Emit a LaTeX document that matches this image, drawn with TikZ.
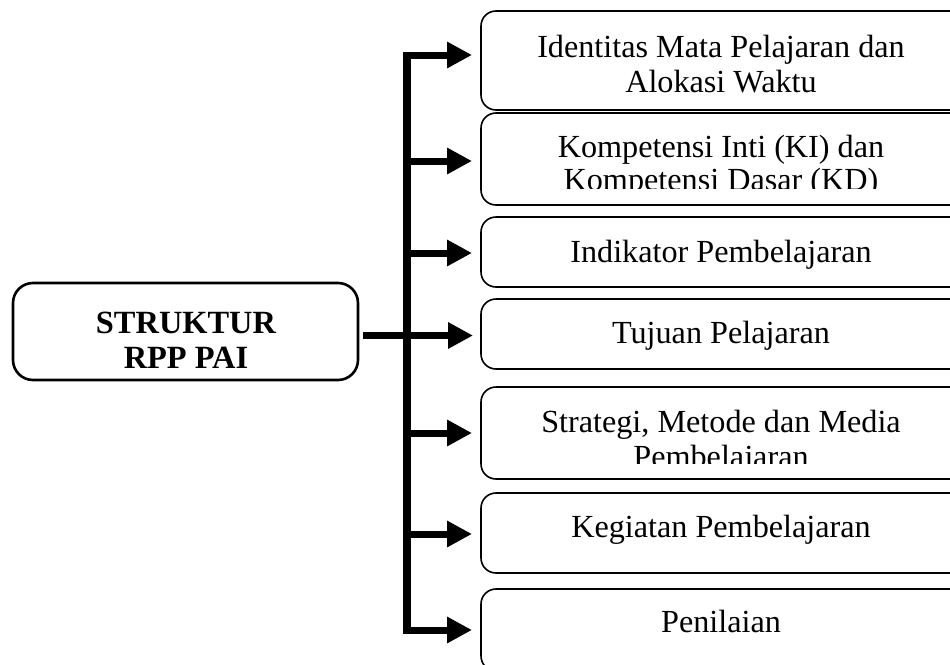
\documentclass[tikz,border=0pt]{standalone}
\usepackage{fontspec}
\setmainfont{Liberation Serif}
\usetikzlibrary{arrows.meta}
\begin{document}
\begin{tikzpicture}[x=1pt,y=-1pt,
  rbox/.style={anchor=north west,inner sep=0pt,outer sep=0pt,minimum width=482pt},
  outline/.style={draw,line width=1.6pt,rounded corners=15pt},
  mainbox/.style={draw,line width=2.6pt,rounded corners=20pt,anchor=north west,inner sep=0pt,outer sep=0pt,minimum width=345pt,minimum height=97pt},
  txt/.style={anchor=base,inner sep=0pt,font=\fontsize{32.2}{34}\selectfont},
  btxt/.style={anchor=base,inner sep=0pt,font=\fontsize{32.4}{35}\selectfont\bfseries},
  arr/.style={line width=7pt,-{Triangle[length=25pt,width=25pt]}},
  spine/.style={line width=8pt}
]
\useasboundingbox (0,0) rectangle (950,664);
\fill[white] (0,0) rectangle (950,664);
\clip (0,0) rectangle (950,664);

% boxes
\node[mainbox] (b0) at (13,283) {};
\node[rbox,minimum height=99pt] (b1) at (481,11) {};
\node[rbox,minimum height=92pt] (b2) at (481,113) {};
\node[rbox,minimum height=70pt] (b3) at (481,217) {};
\node[rbox,minimum height=70pt] (b4) at (481,299) {};
\node[rbox,minimum height=92pt] (b5) at (481,387) {};
\node[rbox,minimum height=80pt] (b6) at (481,493) {};
\node[rbox,minimum height=82pt] (b7) at (481,589) {};
\foreach \b in {b1,b2,b3,b4,b5,b6,b7}{
  \draw[outline] ([xshift=40pt]\b.north east) -- (\b.north west) -- (\b.south west) -- ([xshift=40pt]\b.south east);
}

% texts
\node[btxt] (m1) at (186,333) {STRUKTUR};
\node[btxt] (m2) at (186,368) {RPP PAI};

\node[txt] (t11) at (721,57) {Identitas Mata Pelajaran dan};
\node[txt] (t12) at (721,92) {Alokasi Waktu};
\begin{scope}
\clip (482,114) rectangle (962,188);
\node[txt] (t21) at (721,157) {Kompetensi Inti (KI) dan};
\node[txt] (t22) at (721,190) {Kompetensi Dasar (KD)};
\end{scope}
\node[txt] (t3) at (721,262) {Indikator Pembelajaran};
\node[txt] (t4) at (721,343) {Tujuan Pelajaran};
\begin{scope}
\clip (482,388) rectangle (962,463);
\node[txt] (t51) at (721,432) {Strategi, Metode dan Media};
\node[txt] (t52) at (721,467) {Pembelajaran};
\end{scope}
\node[txt] (t6) at (721,537) {Kegiatan Pembelajaran};
\node[txt] (t7) at (721,632) {Penilaian};

% spine
\coordinate (stop) at (407,51.5);
\coordinate (sbot) at (407,633.5);
\draw[spine] (stop) -- (sbot);

% arrow targets
\coordinate (a1) at ([xshift=-9pt,yshift=5.5pt]b1.west);
\coordinate (a2) at ([xshift=-9pt,yshift=-2pt]b2.west);
\coordinate (a3) at ([xshift=-9pt,yshift=-1pt]b3.west);
\coordinate (a4) at ([xshift=-8pt,yshift=-1.5pt]b4.west);
\coordinate (a5) at ([xshift=-9pt]b5.west);
\coordinate (a6) at ([xshift=-9pt,yshift=-1pt]b6.west);
\coordinate (a7) at ([xshift=-9pt]b7.west);

\draw[arr] (stop |- a1) -- (a1);
\draw[arr] (stop |- a2) -- (a2);
\draw[arr] (stop |- a3) -- (a3);
\draw[arr] ([xshift=5pt]b0.east |- a4) -- (a4);
\draw[arr] (stop |- a5) -- (a5);
\draw[arr] (stop |- a6) -- (a6);
\draw[arr] (stop |- a7) -- (a7);
\end{tikzpicture}
\end{document}
